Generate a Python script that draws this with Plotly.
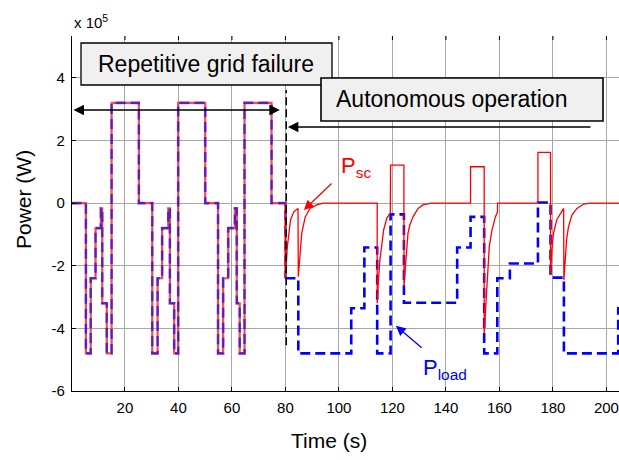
import plotly.graph_objects as go

# ---- data (power in units of 1e5 W, time in s) ----
# Repetitive grid failure: Psc follows Pload (step values, held until next time)
t_fail = [0, 5.4, 7.2, 9.0, 11.0, 11.5, 13.2, 15.0, 25.2,
          30.2, 32.2, 33.9, 36.2, 36.8, 38.4, 39.9, 50.0,
          54.8, 56.7, 58.6, 61.1, 61.8, 62.9, 64.7, 74.8, 80.0]
p_fail = [0, -4.8, -2.4, -0.8, -0.17, -3.2, -4.8, 3.2, 0,
          -4.8, -2.4, -0.8, -0.17, -3.2, -4.8, 3.2, 0,
          -4.8, -2.4, -0.8, -0.17, -3.2, -4.8, 3.2, 0, -2.4]

# Autonomous operation: load steps
t_load = [80.0, 84.8, 104.6, 109.5, 114.3, 119.3, 124.3, 144.2, 149.2,
          154.3, 159.2, 163.9, 174.4, 179.1, 184.1, 204.4, 205.0]
p_load = [-2.4, -4.8, -3.36, -1.42, -4.8, -0.36, -3.18, -1.42, -0.44,
          -4.8, -2.4, -1.93, 0.02, -2.38, -4.8, -3.36, -3.36]

# Autonomous operation: supercapacitor power
t_sc = [80.0, 80.0, 80.7, 81.9, 83.1, 84.7, 84.8, 85.5, 86.1, 87.4, 89.2, 91.7, 94.2,
        114.3, 114.3, 114.7, 115.3, 116.1, 116.7, 117.9, 119.2, 119.3, 124.3, 124.3,
        124.6, 125.2, 125.8, 126.5, 127.7, 129.6, 131.4, 134.6,
        149.2, 149.2, 154.3, 154.3, 154.7, 155.1, 155.6, 156.2, 157.2, 158.5, 159.3, 159.3,
        174.4, 174.4, 179.1, 179.1, 179.6, 180.2, 181.4, 182.7, 184.0, 184.1,
        184.5, 185.1, 185.8, 187.1, 189.0, 191.5, 194.0, 205.0]
p_sc = [0, -2.4, -1.4, -0.54, -0.28, -0.17, -2.35, -1.6, -0.96, -0.44, -0.17, -0.06, 0,
        0, -3.2, -2.56, -1.82, -1.28, -0.86, -0.48, -0.32, 1.21, 1.21, -2.67,
        -2.35, -1.5, -0.97, -0.7, -0.44, -0.17, -0.06, 0,
        0, 1.16, 1.16, -4.16, -3.5, -2.78, -2.03, -1.4, -0.86, -0.44, -0.28, 0,
        0, 1.62, 1.62, -2.3, -1.5, -0.97, -0.54, -0.33, -0.17, -2.46,
        -1.82, -1.18, -0.76, -0.38, -0.17, -0.03, 0, 0]

x_ticks = [20, 40, 60, 80, 100, 120, 140, 160, 180, 200]
y_ticks = [-6, -4, -2, 0, 2, 4]
y_ticktext = ["-6", "-4", "-2", "0", "2", "4"]

FONT = "Liberation Sans, Arial, sans-serif"
W, H = 619, 460
ML, MR, MT, MB = 72, 0, 36, 69
PW, PH = W - ML - MR, H - MT - MB


def px_x(px):
    return (px - ML) / PW


def px_y(py):
    return (H - MB - py) / PH


fig = go.Figure()
fig.add_trace(go.Scatter(x=t_fail, y=p_fail, mode="lines", line_shape="hv",
                         line=dict(color="rgba(255,40,40,0.85)", width=2.2),
                         showlegend=False, hoverinfo="skip"))
fig.add_trace(go.Scatter(x=t_fail, y=p_fail, mode="lines", line_shape="hv",
                         line=dict(color="#0000ff", width=2.6, dash="10px,5px"),
                         opacity=0.6, showlegend=False, hoverinfo="skip"))
fig.add_trace(go.Scatter(x=t_load, y=p_load, mode="lines", line_shape="hv",
                         line=dict(color="#0000ff", width=2.6, dash="10px,5px"),
                         showlegend=False, hoverinfo="skip"))
fig.add_trace(go.Scatter(x=t_sc, y=p_sc, mode="lines",
                         line=dict(color="#ff0000", width=1.3),
                         showlegend=False, hoverinfo="skip"))

# dashed vertical separation line
fig.add_shape(type="line", x0=80.3, x1=80.3, y0=-4.54, y1=3.61, xref="x", yref="y",
              line=dict(color="black", width=1.5, dash="8px,4px"))

# top-axis ticks
for xv in x_ticks:
    fig.add_shape(type="line", x0=xv, x1=xv, y0=1, y1=1 - 4 / PH, xref="x", yref="paper",
                  line=dict(color="black", width=1))

# text boxes
fig.add_shape(type="rect", xref="paper", yref="paper",
              x0=px_x(81), x1=px_x(332), y0=px_y(85), y1=px_y(43),
              fillcolor="#f0f0f0", line=dict(color="black", width=1.3), layer="above")
fig.add_shape(type="rect", xref="paper", yref="paper",
              x0=px_x(321), x1=px_x(603), y0=px_y(121), y1=px_y(78),
              fillcolor="#f0f0f0", line=dict(color="black", width=1.6), layer="above")

ann = []
ann.append(dict(text="Repetitive grid failure", xref="paper", yref="paper",
                x=px_x(96), y=px_y(64), xanchor="left", yanchor="middle",
                showarrow=False, font=dict(family=FONT, size=23, color="black")))
ann.append(dict(text="Autonomous operation", xref="paper", yref="paper",
                x=px_x(334), y=px_y(99), xanchor="left", yanchor="middle",
                showarrow=False, font=dict(family=FONT, size=23, color="black")))
# double arrow for grid failure period
ann.append(dict(text="", x=77.9, y=2.97, ax=0.2, ay=2.97, xref="x", yref="y",
                axref="x", ayref="y", showarrow=True, arrowhead=2, startarrowhead=2,
                arrowside="end+start", arrowsize=1.4, startarrowsize=1.4,
                arrowwidth=1.5, arrowcolor="black"))
# autonomous arrow
ann.append(dict(text="", x=80.9, y=2.43, ax=194.6, ay=2.43, xref="x", yref="y",
                axref="x", ayref="y", showarrow=True, arrowhead=2, arrowsize=1.4,
                arrowwidth=1.5, arrowcolor="black"))
# Psc label & arrow
ann.append(dict(text="P<sub>sc</sub>", x=106.5, y=1.15, xref="x", yref="y",
                showarrow=False, font=dict(family=FONT, size=22, color="#ff0000")))
ann.append(dict(text="", x=86.9, y=-0.22, ax=97.8, ay=0.67, xref="x", yref="y",
                axref="x", ayref="y", showarrow=True, arrowhead=2, arrowsize=1.5,
                arrowwidth=1.3, arrowcolor="#ff0000"))
# Pload label & arrow
ann.append(dict(text="P<sub>load</sub>", x=139.5, y=-5.3, xref="x", yref="y",
                showarrow=False, font=dict(family=FONT, size=22, color="#0000ff")))
ann.append(dict(text="", x=121.3, y=-3.92, ax=131.5, ay=-4.66, xref="x", yref="y",
                axref="x", ayref="y", showarrow=True, arrowhead=2, arrowsize=1.5,
                arrowwidth=1.3, arrowcolor="#0000ff"))
# axis titles and exponent
ann.append(dict(text="Power (W)", xref="paper", yref="paper", x=px_x(23), y=px_y(200),
                xanchor="center", yanchor="middle", textangle=-90, showarrow=False,
                font=dict(family=FONT, size=21, color="black")))
ann.append(dict(text="Time (s)", xref="paper", yref="paper", x=px_x(329), y=px_y(440),
                xanchor="center", yanchor="middle", showarrow=False,
                font=dict(family=FONT, size=21, color="black")))
ann.append(dict(text="x 10<sup>5</sup>", xref="paper", yref="paper", x=px_x(72), y=px_y(21),
                xanchor="left", yanchor="middle", showarrow=False,
                font=dict(family=FONT, size=15, color="black")))

fig.update_layout(
    width=W, height=H,
    margin=dict(l=ML, r=MR, t=MT, b=MB, pad=0),
    paper_bgcolor="white", plot_bgcolor="white",
    annotations=ann,
    font=dict(family=FONT, size=15, color="black"),
    xaxis=dict(range=[0.2, 204.7], tickvals=x_ticks, ticks="inside", ticklen=4,
               tickcolor="black", showline=True, linecolor="black", linewidth=1.2,
               showgrid=True, gridcolor="#a8a8a8", gridwidth=1, zeroline=False,
               tickfont=dict(family=FONT, size=15, color="black"), ticklabelstandoff=3),
    yaxis=dict(range=[-6, 5.335], tickvals=y_ticks, ticktext=y_ticktext, ticks="inside",
               ticklen=4, tickcolor="black", showline=True, linecolor="black",
               linewidth=1.2, showgrid=True, gridcolor="#a8a8a8", gridwidth=1,
               zeroline=False, tickfont=dict(family=FONT, size=15, color="black"),
               ticklabelstandoff=3),
)

fig.write_html("out.html")
